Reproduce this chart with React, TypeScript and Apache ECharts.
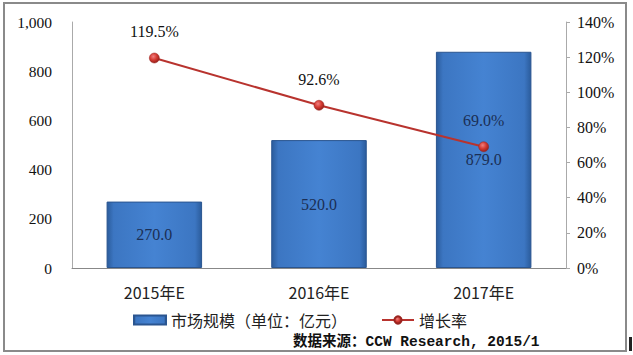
import React, { useEffect, useRef } from "react";
import * as echarts from "echarts";

const categories = ["2015年E", "2016年E", "2017年E"];
const marketSize = [270.0, 520.0, 879.0];
const growthRate = [119.5, 92.6, 69.0];
const leftTicks = { min: 0, max: 1000, interval: 200 };
const rightTicks = { min: 0, max: 140, interval: 20 };
const seriesNames = ["市场规模（单位：亿元）", "增长率"];
const sourceText = "数据来源：CCW Research, 2015/1";

export default function App() {
  const ref = useRef<HTMLDivElement>(null);
  useEffect(() => {
    if (!ref.current) return;
    const chart = echarts.init(ref.current, undefined, { renderer: "svg" });
    const serif = "'Liberation Serif', 'Times New Roman', serif";
    const sans = "'Noto Sans CJK SC', 'Noto Sans', sans-serif";
    const barGrad = new echarts.graphic.LinearGradient(0, 0, 1, 0, [
      { offset: 0, color: "#2b5c9c" },
      { offset: 0.07, color: "#3c76c2" },
      { offset: 0.5, color: "#4583d2" },
      { offset: 0.93, color: "#3c76c2" },
      { offset: 1, color: "#2b5c9c" },
    ]);
    const dot = new echarts.graphic.RadialGradient(0.4, 0.35, 0.7, [
      { offset: 0, color: "#f08080" },
      { offset: 0.5, color: "#d43a32" },
      { offset: 1, color: "#8e1d18" },
    ]);
    chart.setOption({
      animation: false,
      grid: { left: 72, right: 67, top: 22, bottom: 87 },
      legend: {
        bottom: 22,
        left: 128,
        itemGap: 34,
        itemWidth: 32,
        itemHeight: 9,
        textStyle: { fontFamily: sans, fontSize: 16, color: "#222" },
        data: [
          { name: seriesNames[0], icon: "rect" },
          { name: seriesNames[1] },
        ],
      },
      xAxis: {
        type: "category",
        data: categories,
        axisLine: { lineStyle: { color: "#888" } },
        axisTick: { show: false },
        axisLabel: { fontFamily: sans, fontSize: 16, color: "#222", margin: 16 },
      },
      yAxis: [
        {
          type: "value",
          min: leftTicks.min,
          max: leftTicks.max,
          interval: leftTicks.interval,
          axisLine: { show: true, lineStyle: { color: "#aaa" } },
          axisTick: { show: false },
          splitLine: { show: false },
          axisLabel: {
            fontFamily: serif,
            fontSize: 15.5,
            color: "#111",
            margin: 20,
            formatter: (v: number) => v.toLocaleString("en-US"),
          },
        },
        {
          type: "value",
          min: rightTicks.min,
          max: rightTicks.max,
          interval: rightTicks.interval,
          position: "right",
          axisLine: { show: true, lineStyle: { color: "#aaa" } },
          axisTick: { show: true, inside: false, length: 4, lineStyle: { color: "#aaa" } },
          splitLine: { show: false },
          axisLabel: {
            fontFamily: serif,
            fontSize: 16,
            color: "#111",
            margin: 11,
            formatter: (v: number) => v + "%",
          },
        },
      ],
      series: [
        {
          name: seriesNames[0],
          type: "bar",
          data: marketSize,
          barWidth: "58%",
          itemStyle: { color: barGrad, borderColor: "#2a5590", borderWidth: 1 },
          label: {
            show: true,
            position: "inside",
            fontFamily: serif,
            fontSize: 16,
            color: "#1b2f55",
            textBorderWidth: 0,
            formatter: (p: any) => p.value.toFixed(1),
          },
        },
        {
          name: seriesNames[1],
          type: "line",
          yAxisIndex: 1,
          data: growthRate.map((v, i) =>
            i === growthRate.length - 1
              ? { value: v, label: { color: "#1b2f55" } }
              : v
          ),
          symbol: "circle",
          symbolSize: 10,
          lineStyle: { color: "#b8332e", width: 2 },
          itemStyle: { color: dot, borderColor: "#9a2520", borderWidth: 0.5 },
          label: {
            show: true,
            position: "top",
            distance: 13,
            fontFamily: serif,
            fontSize: 16,
            color: "#111",
            textBorderWidth: 0,
            formatter: (p: any) => p.value.toFixed(1) + "%",
          },
        },
      ],
      graphic: [
        {
          type: "rect",
          shape: { x: 4, y: 3, width: 622, height: 348 },
          style: { fill: "none", stroke: "#8a8a8a", lineWidth: 2 },
          silent: true,
        },
        {
          type: "rect",
          shape: { x: 629, y: 337, width: 3, height: 14 },
          style: { fill: "#222" },
          silent: true,
        },
        {
          type: "text",
          x: 293,
          y: 335,
          style: {
            text: sourceText,
            font: "bold 14.5px 'Liberation Mono', 'Noto Sans CJK SC', monospace",
            fill: "#111",
          },
        },
      ],
    });
    return () => chart.dispose();
  }, []);
  return (
    <div
      ref={ref}
      style={{ position: "fixed", left: 0, top: 0, width: 633, height: 355, background: "#fff" }}
    />
  );
}
